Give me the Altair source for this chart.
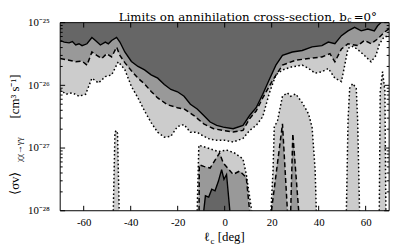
import altair as alt
import pandas as pd

# ---------------- data ----------------
# upper limits: solid (main), dashed, dotted
sol_l = [-70, -68.3, -66.2, -64.8, -63.4, -62.0, -60.7, -58.6, -56.5, -55.0, -52.9, -50.8, -49.5, -48.1,
         -46.0, -44.6, -42.5, -39.7, -36.9, -34.1, -31.3, -28.5, -25.7, -22.9, -20.1, -17.3, -14.6, -11.7,
         -8.9, -6.2, -3.4, -0.6, 3.6, 7.8, 10.6, 13.4, 16.2, 19.0, 21.8, 24.6, 28.8, 33.0, 37.2, 41.4,
         44.1, 46.9, 49.7, 52.5, 55.3, 58.1, 60.9, 63.7, 65.1, 66.5, 67.9, 70.0]
sol_v = [5.2e-26, 4.9e-26, 4.75e-26, 5.0e-26, 4.4e-26, 4.6e-26, 4.3e-26, 4.6e-26, 5.8e-26, 5.2e-26,
         4.4e-26, 4.9e-26, 4.6e-26, 5.2e-26, 5.8e-26, 4.9e-26, 3.4e-26, 2.4e-26, 2.0e-26, 1.76e-26,
         1.47e-26, 1.3e-26, 1.03e-26, 8.6e-27, 7.9e-27, 6.7e-27, 5.0e-27, 4.2e-27, 3.3e-27, 2.6e-27,
         2.3e-27, 2.15e-27, 2.03e-27, 2.3e-27, 3.3e-27, 4.4e-27, 7.2e-27, 1.24e-26, 2.1e-26, 3.0e-26,
         3.4e-26, 3.6e-26, 4.1e-26, 4.3e-26, 4.9e-26, 4.6e-26, 6.2e-26, 7.4e-26, 8.4e-26, 7.4e-26,
         7.9e-26, 7.4e-26, 8.9e-26, 1.0e-25, 1.18e-25, 1.27e-25]

das_l = [-70, -66.2, -63.4, -60.7, -58.6, -56.5, -54.4, -52.3, -50.2, -48.1, -46.0, -44.6, -42.5, -39.7,
         -36.9, -34.1, -31.3, -28.5, -24.3, -20.1, -17.3, -13.1, -8.9, -4.7, -0.6, 3.6, 7.8, 10.6, 13.4,
         16.2, 20.4, 24.6, 30.2, 35.7, 41.4, 44.8, 46.9, 49.7, 52.5, 56.7, 59.5, 62.3, 65.1, 67.9, 70.0]
das_v = [2.67e-26, 2.52e-26, 2.37e-26, 2.43e-26, 2.1e-26, 3.4e-26, 3.0e-26, 2.67e-26, 3.2e-26, 2.84e-26,
         4.07e-26, 3.0e-26, 2.3e-26, 1.71e-26, 1.3e-26, 1.05e-26, 8.0e-27, 6.3e-27, 4.9e-27, 4.4e-27,
         4.2e-27, 3.3e-27, 2.43e-27, 2.03e-27, 1.91e-27, 1.8e-27, 1.91e-27, 2.94e-27, 3.9e-27, 6.3e-27,
         1.2e-26, 2.1e-26, 2.52e-26, 2.67e-26, 2.84e-26, 3.2e-26, 2.37e-26, 3.8e-26, 4.6e-26, 4.3e-26,
         5.2e-26, 4.6e-26, 5.5e-26, 7.0e-26, 8.0e-26]

dot_l = [-70, -67.6, -64.8, -62.0, -59.2, -56.5, -53.7, -50.8, -48.1, -45.3, -42.5, -39.7, -36.9, -34.1,
         -31.3, -28.5, -25.7, -22.9, -20.1, -17.3, -14.6, -11.7, -8.9, -6.2, -3.4, 0.0, 3.6, 7.8, 10.6,
         13.4, 16.2, 19.0, 21.8, 24.6, 28.8, 33.0, 35.7, 38.5, 41.4, 44.1, 46.9, 49.7, 51.1, 52.5, 54.6,
         56.7, 59.5, 62.3, 64.4, 65.8, 67.9, 70.0]
dot_v = [8.6e-27, 7.2e-27, 7.6e-27, 6.7e-27, 7.2e-27, 1.3e-26, 1.09e-26, 1.38e-26, 1.47e-26, 2.37e-26,
         1.78e-26, 9.6e-27, 6.3e-27, 3.9e-27, 2.55e-27, 1.78e-27, 1.49e-27, 1.54e-27, 2.2e-27, 2.37e-27,
         1.78e-27, 1.78e-27, 1.54e-27, 1.38e-27, 1.33e-27, 1.33e-27, 1.25e-27, 1.42e-27, 1.91e-27,
         2.29e-27, 3.16e-27, 7.5e-27, 1.47e-26, 1.76e-26, 1.98e-26, 2.1e-26, 1.86e-26, 1.56e-26, 1.65e-26,
         1.86e-26, 1.3e-26, 1.15e-26, 2.1e-26, 3.9e-26, 4.2e-26, 3.7e-26, 3.0e-26, 2.37e-26, 3.0e-26,
         4.5e-26, 6.0e-26, 6.0e-26]

# lower islands (rising from the bottom of the plot)
isl_dot = [
    ([-47.4, -46.7, -46.1, -45.6, -44.9], [1e-28, 1.78e-27, 1.91e-27, 1.71e-27, 1e-28]),
    ([-11.7, -11.0, -6.8, -2.65, 0.8, 4.2, 7.8, 9.2, 11.5],
     [1e-28, 1.11e-27, 9.9e-28, 8.75e-28, 9.3e-28, 8.35e-28, 6.7e-28, 3.8e-28, 1e-28]),
    ([19.7, 20.6, 21.1, 22.5, 24.6, 26.7, 28.1, 30.2, 33.0, 35.7, 37.2, 38.5, 39.0],
     [1e-28, 4.5e-28, 2.15e-27, 2.74e-27, 6.7e-27, 7.6e-27, 6.7e-27, 7.3e-27, 5.3e-27, 3.5e-27,
      2.15e-27, 4.5e-28, 1e-28]),
    ([51.8, 52.5, 53.2, 54.5, 56.0, 56.6, 57.4], [1e-28, 2.74e-27, 9.0e-27, 1.07e-26, 9.0e-27, 2.74e-27, 1e-28]),
    ([65.8, 66.2, 67.2, 68.2, 68.6], [1e-28, 8.0e-27, 1.65e-26, 8.0e-27, 1e-28]),
]
isl_das = [
    ([-10.9, -10.8, -8.9, -6.2, -2.2, -0.6, 3.6, 6.4, 9.2, 10.6],
     [1e-28, 5.4e-28, 5.1e-28, 4.8e-28, 8.3e-28, 5.8e-28, 3.8e-28, 4.3e-28, 3.4e-28, 1e-28]),
    ([19.9, 24.6, 26.7], [1e-28, 2.43e-27, 1e-28]),
    ([28.1, 29.0, 31.5], [1e-28, 1.7e-27, 1e-28]),
]
isl_sol = [
    ([-8.9, -8.2, -6.8, -5.5, -4.1, -2.65, -1.3, -0.3, 0.8, 2.2],
     [1e-28, 1.73e-28, 1.65e-28, 2.21e-28, 2.08e-28, 2.97e-28, 4.53e-28, 3.16e-28, 3.78e-28, 1e-28]),
]

xticks = [-60, -40, -20, 0, 20, 40, 60]
ymajor = [1e-28, 1e-27, 1e-26, 1e-25]
yminor = [m * 10.0 ** e for e in (-28, -27, -26) for m in range(2, 10)]
YTOP, YBOT = 1e-25, 1e-28

DARK, MID, LIGHT = "#666666", "#999999", "#cccccc"
SERIF = "Liberation Serif"
W, H = 334, 191


def frame(l, v, g=0, edge=YTOP):
    return pd.DataFrame({"l": l, "v": v, "g": g, "e": edge})


def islands(lst):
    return pd.concat([frame(l, v, i, YBOT) for i, (l, v) in enumerate(lst)], ignore_index=True)


xs = alt.Scale(domain=[-70, 70], nice=False, zero=False)
ys = alt.Scale(type="log", domain=[YBOT, YTOP], nice=False)
xaxis = alt.Axis(values=xticks, labelExpr="'' + datum.value", ticks=False, domain=False, grid=False,
                 labelFont=SERIF, labelFontSize=11, labelColor="black", labelPadding=6,
                 labelFlush=False, title=None)
yaxis = alt.Axis(values=ymajor,
                 labelExpr="'10' + (datum.value < 5e-28 ? '⁻²⁸' : datum.value < 5e-27 ? '⁻²⁷' : "
                           "datum.value < 5e-26 ? '⁻²⁶' : '⁻²⁵')",
                 ticks=False, domain=False, grid=False, labelFont=SERIF, labelFontSize=11,
                 labelColor="black", labelPadding=11, labelFlush=False, title=None)
X = alt.X("l:Q", scale=xs, axis=xaxis)
Y = alt.Y("v:Q", scale=ys, axis=yaxis)

layers = []
# upper bands (fill from curve to top)
for l, v, c in [(dot_l, dot_v, LIGHT), (das_l, das_v, MID), (sol_l, sol_v, DARK)]:
    layers.append(alt.Chart(frame(l, v)).mark_area(color=c, opacity=1, orient="vertical", clip=True)
                  .encode(x=X, y=Y, y2="e:Q"))
# islands (fill from bottom to curve)
for lst, c in [(isl_dot, LIGHT), (isl_das, MID), (isl_sol, DARK)]:
    layers.append(alt.Chart(islands(lst)).mark_area(color=c, opacity=1, orient="vertical", clip=True)
                  .encode(x=X, y=Y, y2="e:Q", detail="g:N"))

LW = 1.5
styles = {"sol": dict(strokeWidth=1.4), "das": dict(strokeWidth=LW, strokeDash=[5, 3]),
          "dot": dict(strokeWidth=LW, strokeDash=[1.6, 2.4])}
for df, st in [(frame(dot_l, dot_v), "dot"), (frame(das_l, das_v), "das"), (frame(sol_l, sol_v), "sol"),
               (islands(isl_dot), "dot"), (islands(isl_das), "das"), (islands(isl_sol), "sol")]:
    layers.append(alt.Chart(df).mark_line(color="black", clip=True, **styles[st])
                  .encode(x=X, y=Y, detail="g:N"))

# inward ticks
xt = pd.DataFrame({"l": xticks})
ymj = pd.DataFrame({"v": ymajor})
ymn = pd.DataFrame({"v": yminor})
tick = dict(color="black", strokeWidth=1)
layers += [
    alt.Chart(xt).mark_rule(**tick).encode(x=X, y=alt.value(H), y2=alt.value(H - 5)),
    alt.Chart(xt).mark_rule(**tick).encode(x=X, y=alt.value(0), y2=alt.value(5)),
    alt.Chart(ymj).mark_rule(**tick).encode(y=Y, x=alt.value(0), x2=alt.value(5)),
    alt.Chart(ymj).mark_rule(**tick).encode(y=Y, x=alt.value(W), x2=alt.value(W - 5)),
    alt.Chart(ymn).mark_rule(**tick).encode(y=Y, x=alt.value(0), x2=alt.value(2.5)),
    alt.Chart(ymn).mark_rule(**tick).encode(y=Y, x=alt.value(W), x2=alt.value(W - 2.5)),
]
# frame
one = pd.DataFrame({"a": [0]})
layers.append(alt.Chart(one).mark_rect(filled=False, stroke="black", strokeWidth=1)
              .encode(x=alt.value(0), x2=alt.value(W), y=alt.value(0), y2=alt.value(H)))


def txt(t, x, y, size, align="left", angle=0, font=SERIF, baseline="alphabetic"):
    return (alt.Chart(pd.DataFrame({"t": [t]}))
            .mark_text(align=align, baseline=baseline, font=font, fontSize=size, color="black", angle=angle)
            .encode(x=alt.value(x), y=alt.value(y), text="t:N"))


# title
TF = "DejaVu Serif"
layers += [
    txt("Limits on annihilation cross-section, b", 291, -1.5, 12, align="right", font=TF),
    txt("c", 291.5, -0.3, 8, font=TF),
    txt("=0°", 298, -1.5, 12, font=TF),
]
# x title
layers += [
    txt("ℓ", 152, 222, 13, align="right"),
    txt("c", 152.5, 224.5, 9),
    txt("[deg]", 160, 222, 13),
]
# y title (rotated)
layers += [
    txt("⟨σv⟩", -42, 163, 13, align="center", angle=270),
    txt("χχ→γγ", -39, 129, 9, align="center", angle=270),
    txt("[cm³ s⁻¹]", -42, 75, 13, align="center", angle=270),
]

chart = (alt.layer(*layers)
         .properties(width=W, height=H, autosize=alt.AutoSizeParams(type="none"),
                     padding={"left": 53, "top": 13, "right": 10, "bottom": 38})
         .configure_view(stroke=None))

chart.save("out.html", embed_options={"renderer": "svg", "actions": False})
